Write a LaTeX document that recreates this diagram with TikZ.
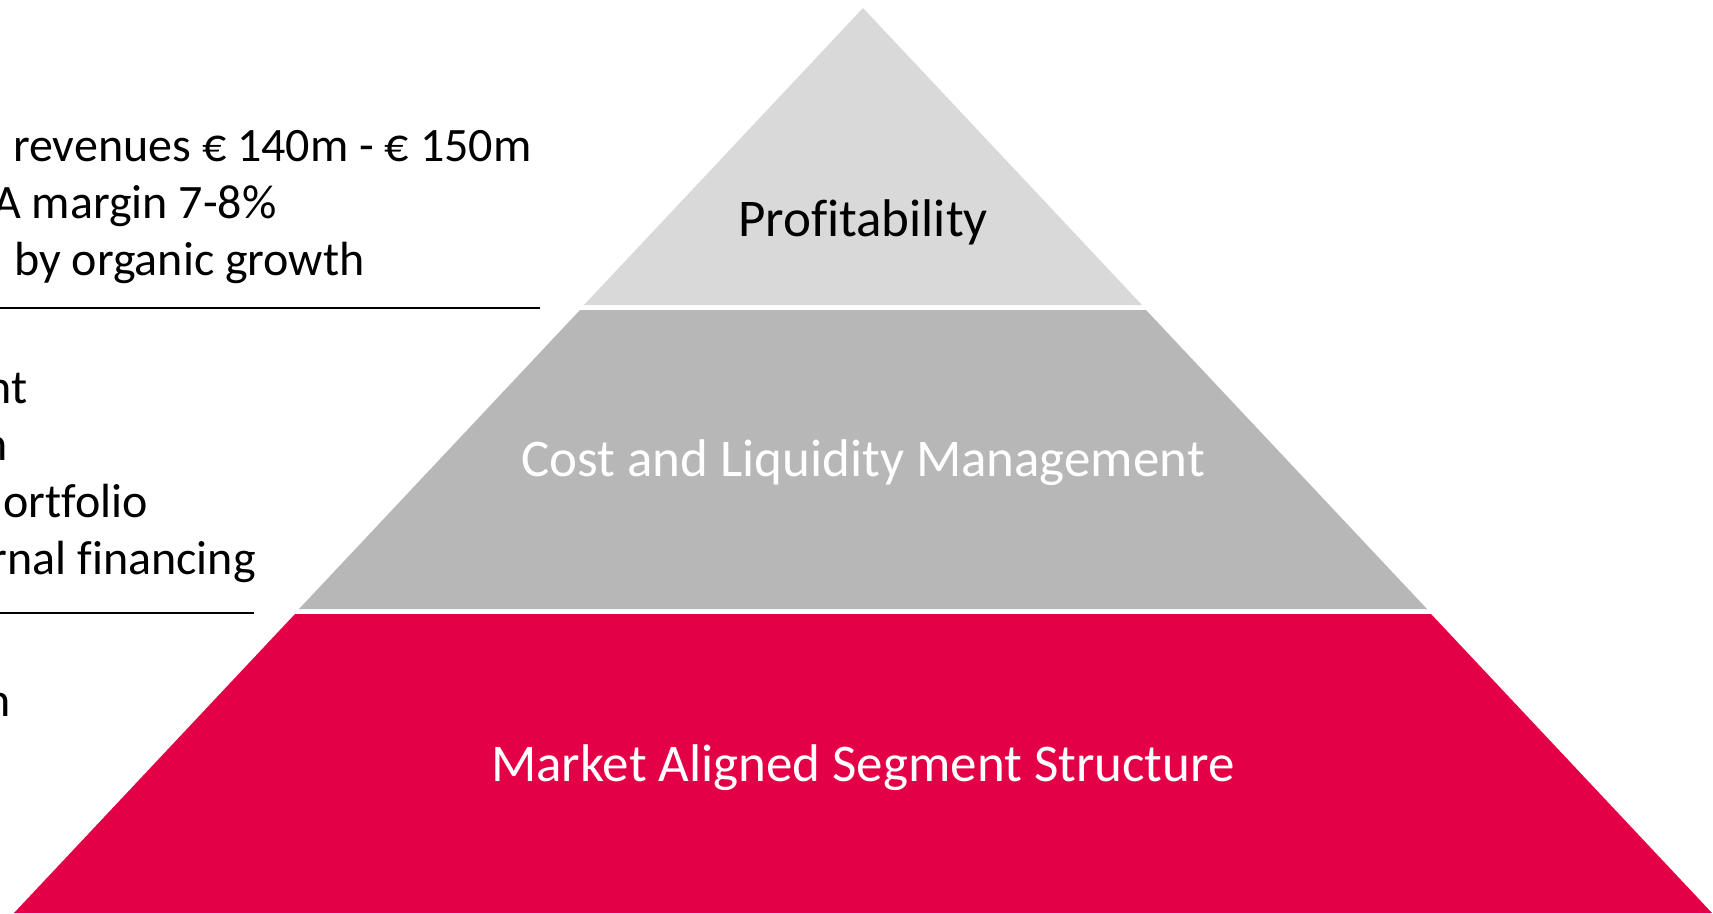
\documentclass[tikz,border=0pt]{standalone}
\usepackage{fontspec}
\setmainfont{Carlito}[Ligatures={NoCommon}]
\definecolor{tierTop}{HTML}{D9D9D9}
\definecolor{tierMid}{HTML}{B7B7B7}
\definecolor{tierRed}{HTML}{E40046}
\begin{document}
\begin{tikzpicture}[x=1pt,y=-1pt,
  lefttext/.style={font=\fontsize{48}{57}\selectfont, inner sep=0pt, text=black},
  tiertext/.style={font=\fontsize{53}{60}\selectfont, inner sep=0pt},
  sepline/.style={line width=2pt, draw=black}]
\useasboundingbox (0,0) rectangle (1713,913);
\fill[white] (0,0) rectangle (1713,913);
\clip (0,0) rectangle (1713,913);
% pyramid tiers
\fill[tierTop] (863,8) -- (1142,305) -- (584,305) -- cycle;
\fill[tierMid] (580,310) -- (1146,310) -- (1427,609) -- (299,609) -- cycle;
\fill[tierRed] (295,614) -- (1431,614) -- (1712,913) -- (14,913) -- cycle;
% tier labels
\node[tiertext, anchor=base, text=black] (profit) at (863,236) {Profitability};
\node[tiertext, anchor=base, text=white] (cost) at (863,476) {Cost and Liquidity Management};
\node[tiertext, anchor=base, text=white] (market) at (863,781) {Market Aligned Segment Structure};
% left texts
\node[lefttext, anchor=base west] (rev) at (13,161) {revenues € 140m - € 150m};
\node[lefttext, anchor=base west] (ebitda) at (-7,218) {A margin 7-8\%};
\node[lefttext, anchor=base west] (organic) at (14,275) {by organic growth};
\coordinate (s1a) at (0,308);
\coordinate (s1b) at (540,308);
\draw[sepline] (s1a) -- (s1b);
\node[lefttext, anchor=base east] (l4) at (28,403) {nt};
\node[lefttext, anchor=base east] (l5) at (8,460) {n};
\node[lefttext, anchor=base east] (l6) at (148,517) {ortfolio};
\node[lefttext, anchor=base east] (l7) at (256,574) {rnal financing};
\coordinate (s2a) at (0,613);
\coordinate (s2b) at (254,613);
\draw[sepline] (s2a) -- (s2b);
\node[lefttext, anchor=base east] (l8) at (11,716) {n};
\end{tikzpicture}
\end{document}
